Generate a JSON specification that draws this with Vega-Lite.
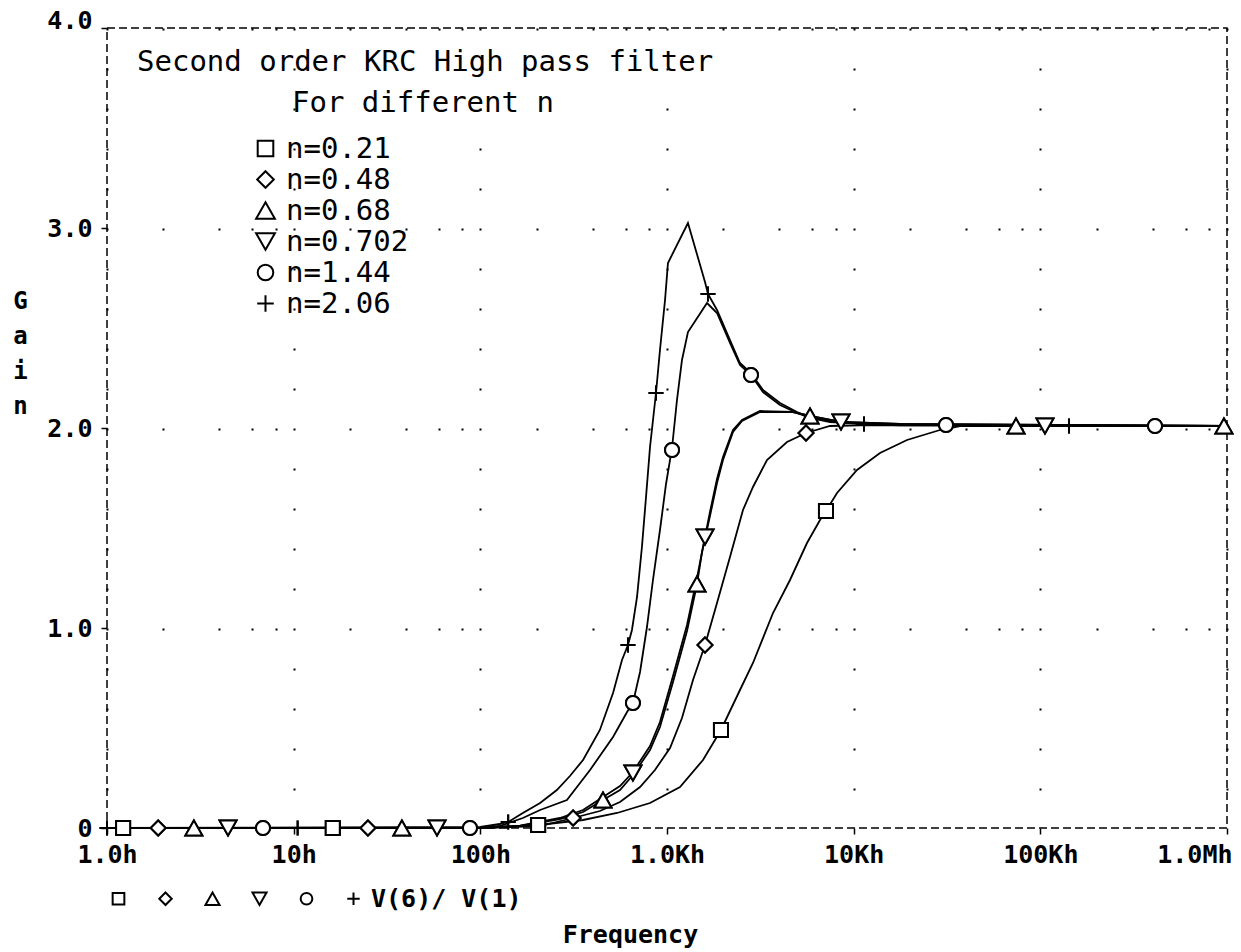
{
  "$schema": "https://vega.github.io/schema/vega-lite/v6.json",
  "width": 1120,
  "height": 800,
  "autosize": {"type": "none"},
  "padding": {"left": 107, "top": 28, "right": 14, "bottom": 124},
  "background": "white",
  "config": {
    "view": {"stroke": "black", "strokeDash": [8, 4], "strokeWidth": 1.5},
    "axis": {
      "labelFont": "DejaVu Sans Mono",
      "labelFontWeight": "bold",
      "labelFontSize": 25,
      "labelColor": "black",
      "titleFont": "DejaVu Sans Mono",
      "titleFontWeight": "bold",
      "titleColor": "black",
      "tickColor": "black",
      "tickWidth": 1.5,
      "tickSize": 6,
      "domain": false
    }
  },
  "datasets": {
    "curves": [
      {"n": "n=2.06", "f": 1, "g": 0}, {"n": "n=2.06", "f": 100, "g": 0.005}, {"n": "n=2.06", "f": 127, "g": 0.02}, {"n": "n=2.06", "f": 144, "g": 0.035}, {"n": "n=2.06", "f": 169, "g": 0.075}, {"n": "n=2.06", "f": 209, "g": 0.125}, {"n": "n=2.06", "f": 257, "g": 0.19}, {"n": "n=2.06", "f": 302, "g": 0.26}, {"n": "n=2.06", "f": 355, "g": 0.34}, {"n": "n=2.06", "f": 437, "g": 0.49}, {"n": "n=2.06", "f": 514, "g": 0.675}, {"n": "n=2.06", "f": 574, "g": 0.84}, {"n": "n=2.06", "f": 618, "g": 0.915}, {"n": "n=2.06", "f": 649, "g": 0.99}, {"n": "n=2.06", "f": 691, "g": 1.155}, {"n": "n=2.06", "f": 734, "g": 1.405}, {"n": "n=2.06", "f": 772, "g": 1.655}, {"n": "n=2.06", "f": 811, "g": 1.905}, {"n": "n=2.06", "f": 873, "g": 2.175}, {"n": "n=2.06", "f": 917, "g": 2.39}, {"n": "n=2.06", "f": 976, "g": 2.64}, {"n": "n=2.06", "f": 1012, "g": 2.825}, {"n": "n=2.06", "f": 1295, "g": 3.025}, {"n": "n=2.06", "f": 1598, "g": 2.73}, {"n": "n=2.06", "f": 1658, "g": 2.67}, {"n": "n=2.06", "f": 1853, "g": 2.59}, {"n": "n=2.06", "f": 2175, "g": 2.44}, {"n": "n=2.06", "f": 2460, "g": 2.325}, {"n": "n=2.06", "f": 2818, "g": 2.275}, {"n": "n=2.06", "f": 3268, "g": 2.19}, {"n": "n=2.06", "f": 4031, "g": 2.125}, {"n": "n=2.06", "f": 4971, "g": 2.08}, {"n": "n=2.06", "f": 5836, "g": 2.05}, {"n": "n=2.06", "f": 7470, "g": 2.035}, {"n": "n=2.06", "f": 11360, "g": 2.02}, {"n": "n=2.06", "f": 17700, "g": 2.013}, {"n": "n=2.06", "f": 1000000, "g": 2.01},
      {"n": "n=1.44", "f": 1, "g": 0}, {"n": "n=1.44", "f": 100, "g": 0}, {"n": "n=1.44", "f": 127, "g": 0.01}, {"n": "n=1.44", "f": 169, "g": 0.05}, {"n": "n=1.44", "f": 209, "g": 0.09}, {"n": "n=1.44", "f": 291, "g": 0.14}, {"n": "n=1.44", "f": 387, "g": 0.29}, {"n": "n=1.44", "f": 514, "g": 0.455}, {"n": "n=1.44", "f": 611, "g": 0.58}, {"n": "n=1.44", "f": 657, "g": 0.625}, {"n": "n=1.44", "f": 717, "g": 0.78}, {"n": "n=1.44", "f": 781, "g": 1.005}, {"n": "n=1.44", "f": 841, "g": 1.24}, {"n": "n=1.44", "f": 917, "g": 1.49}, {"n": "n=1.44", "f": 988, "g": 1.72}, {"n": "n=1.44", "f": 1064, "g": 1.9}, {"n": "n=1.44", "f": 1131, "g": 2.14}, {"n": "n=1.44", "f": 1203, "g": 2.34}, {"n": "n=1.44", "f": 1295, "g": 2.48}, {"n": "n=1.44", "f": 1638, "g": 2.625}, {"n": "n=1.44", "f": 1853, "g": 2.575}, {"n": "n=1.44", "f": 2175, "g": 2.425}, {"n": "n=1.44", "f": 2460, "g": 2.315}, {"n": "n=1.44", "f": 2818, "g": 2.265}, {"n": "n=1.44", "f": 3268, "g": 2.18}, {"n": "n=1.44", "f": 4031, "g": 2.115}, {"n": "n=1.44", "f": 4971, "g": 2.075}, {"n": "n=1.44", "f": 5836, "g": 2.05}, {"n": "n=1.44", "f": 7470, "g": 2.03}, {"n": "n=1.44", "f": 12236, "g": 2.02}, {"n": "n=1.44", "f": 31240, "g": 2.015}, {"n": "n=1.44", "f": 1000000, "g": 2.01},
      {"n": "n=0.68", "f": 1, "g": 0}, {"n": "n=0.68", "f": 100, "g": 0}, {"n": "n=0.68", "f": 163, "g": 0.01}, {"n": "n=0.68", "f": 267, "g": 0.045}, {"n": "n=0.68", "f": 355, "g": 0.08}, {"n": "n=0.68", "f": 454, "g": 0.14}, {"n": "n=0.68", "f": 560, "g": 0.19}, {"n": "n=0.68", "f": 657, "g": 0.265}, {"n": "n=0.68", "f": 811, "g": 0.39}, {"n": "n=0.68", "f": 917, "g": 0.505}, {"n": "n=0.68", "f": 1077, "g": 0.73}, {"n": "n=0.68", "f": 1280, "g": 0.985}, {"n": "n=0.68", "f": 1448, "g": 1.22}, {"n": "n=0.68", "f": 1540, "g": 1.38}, {"n": "n=0.68", "f": 1699, "g": 1.56}, {"n": "n=0.68", "f": 1853, "g": 1.725}, {"n": "n=0.68", "f": 1995, "g": 1.84}, {"n": "n=0.68", "f": 2257, "g": 1.98}, {"n": "n=0.68", "f": 2522, "g": 2.035}, {"n": "n=0.68", "f": 3149, "g": 2.08}, {"n": "n=0.68", "f": 4732, "g": 2.08}, {"n": "n=0.68", "f": 5836, "g": 2.06}, {"n": "n=0.68", "f": 8553, "g": 2.03}, {"n": "n=0.68", "f": 17700, "g": 2.02}, {"n": "n=0.68", "f": 1000000, "g": 2.01},
      {"n": "n=0.702", "f": 1, "g": 0}, {"n": "n=0.702", "f": 100, "g": 0}, {"n": "n=0.702", "f": 163, "g": 0.012}, {"n": "n=0.702", "f": 267, "g": 0.05}, {"n": "n=0.702", "f": 355, "g": 0.09}, {"n": "n=0.702", "f": 454, "g": 0.155}, {"n": "n=0.702", "f": 560, "g": 0.21}, {"n": "n=0.702", "f": 657, "g": 0.28}, {"n": "n=0.702", "f": 811, "g": 0.41}, {"n": "n=0.702", "f": 917, "g": 0.53}, {"n": "n=0.702", "f": 1077, "g": 0.76}, {"n": "n=0.702", "f": 1280, "g": 1.015}, {"n": "n=0.702", "f": 1448, "g": 1.25}, {"n": "n=0.702", "f": 1598, "g": 1.455}, {"n": "n=0.702", "f": 1699, "g": 1.58}, {"n": "n=0.702", "f": 1853, "g": 1.745}, {"n": "n=0.702", "f": 1995, "g": 1.855}, {"n": "n=0.702", "f": 2257, "g": 1.99}, {"n": "n=0.702", "f": 2522, "g": 2.04}, {"n": "n=0.702", "f": 3149, "g": 2.085}, {"n": "n=0.702", "f": 4732, "g": 2.08}, {"n": "n=0.702", "f": 5836, "g": 2.06}, {"n": "n=0.702", "f": 8553, "g": 2.03}, {"n": "n=0.702", "f": 17700, "g": 2.02}, {"n": "n=0.702", "f": 1000000, "g": 2.01},
      {"n": "n=0.48", "f": 1, "g": 0}, {"n": "n=0.48", "f": 100, "g": 0}, {"n": "n=0.48", "f": 209, "g": 0.01}, {"n": "n=0.48", "f": 314, "g": 0.05}, {"n": "n=0.48", "f": 437, "g": 0.085}, {"n": "n=0.48", "f": 560, "g": 0.13}, {"n": "n=0.48", "f": 717, "g": 0.205}, {"n": "n=0.48", "f": 862, "g": 0.29}, {"n": "n=0.48", "f": 1038, "g": 0.4}, {"n": "n=0.48", "f": 1203, "g": 0.55}, {"n": "n=0.48", "f": 1378, "g": 0.74}, {"n": "n=0.48", "f": 1598, "g": 0.915}, {"n": "n=0.48", "f": 1853, "g": 1.125}, {"n": "n=0.48", "f": 2175, "g": 1.355}, {"n": "n=0.48", "f": 2553, "g": 1.59}, {"n": "n=0.48", "f": 2888, "g": 1.705}, {"n": "n=0.48", "f": 3433, "g": 1.84}, {"n": "n=0.48", "f": 4394, "g": 1.93}, {"n": "n=0.48", "f": 5555, "g": 1.975}, {"n": "n=0.48", "f": 7470, "g": 2.01}, {"n": "n=0.48", "f": 12236, "g": 2.015}, {"n": "n=0.48", "f": 1000000, "g": 2.01},
      {"n": "n=0.21", "f": 1, "g": 0}, {"n": "n=0.21", "f": 100, "g": 0}, {"n": "n=0.21", "f": 204, "g": 0.015}, {"n": "n=0.21", "f": 355, "g": 0.04}, {"n": "n=0.21", "f": 540, "g": 0.075}, {"n": "n=0.21", "f": 811, "g": 0.125}, {"n": "n=0.21", "f": 1174, "g": 0.205}, {"n": "n=0.21", "f": 1559, "g": 0.34}, {"n": "n=0.21", "f": 1946, "g": 0.49}, {"n": "n=0.21", "f": 2460, "g": 0.69}, {"n": "n=0.21", "f": 2888, "g": 0.825}, {"n": "n=0.21", "f": 3697, "g": 1.075}, {"n": "n=0.21", "f": 4560, "g": 1.24}, {"n": "n=0.21", "f": 5623, "g": 1.425}, {"n": "n=0.21", "f": 6603, "g": 1.54}, {"n": "n=0.21", "f": 7107, "g": 1.585}, {"n": "n=0.21", "f": 8143, "g": 1.675}, {"n": "n=0.21", "f": 10420, "g": 1.79}, {"n": "n=0.21", "f": 13840, "g": 1.875}, {"n": "n=0.21", "f": 19310, "g": 1.94}, {"n": "n=0.21", "f": 29000, "g": 1.99}, {"n": "n=0.21", "f": 37120, "g": 2.01}, {"n": "n=0.21", "f": 1000000, "g": 2.01}
    ],
    "markers": [
      {"n": "n=0.21", "f": 1.22, "g": 0}, {"n": "n=0.21", "f": 16.2, "g": 0}, {"n": "n=0.21", "f": 204, "g": 0.015}, {"n": "n=0.21", "f": 1946, "g": 0.49}, {"n": "n=0.21", "f": 7107, "g": 1.585},
      {"n": "n=0.48", "f": 1.88, "g": 0}, {"n": "n=0.48", "f": 25, "g": 0}, {"n": "n=0.48", "f": 314, "g": 0.05}, {"n": "n=0.48", "f": 1598, "g": 0.915}, {"n": "n=0.48", "f": 5555, "g": 1.975},
      {"n": "n=0.68", "f": 2.92, "g": 0}, {"n": "n=0.68", "f": 38, "g": 0}, {"n": "n=0.68", "f": 454, "g": 0.14}, {"n": "n=0.68", "f": 1448, "g": 1.22}, {"n": "n=0.68", "f": 5836, "g": 2.06}, {"n": "n=0.68", "f": 74070, "g": 2.01}, {"n": "n=0.68", "f": 963000, "g": 2.01},
      {"n": "n=0.702", "f": 4.45, "g": 0}, {"n": "n=0.702", "f": 58.6, "g": 0}, {"n": "n=0.702", "f": 657, "g": 0.275}, {"n": "n=0.702", "f": 1598, "g": 1.455}, {"n": "n=0.702", "f": 8553, "g": 2.03}, {"n": "n=0.702", "f": 105900, "g": 2.01},
      {"n": "n=1.44", "f": 6.85, "g": 0}, {"n": "n=1.44", "f": 88, "g": 0}, {"n": "n=1.44", "f": 657, "g": 0.625}, {"n": "n=1.44", "f": 1064, "g": 1.89}, {"n": "n=1.44", "f": 2818, "g": 2.265}, {"n": "n=1.44", "f": 31240, "g": 2.015}, {"n": "n=1.44", "f": 411400, "g": 2.01},
      {"n": "n=2.06", "f": 1, "g": 0}, {"n": "n=2.06", "f": 10.5, "g": 0}, {"n": "n=2.06", "f": 141, "g": 0.03}, {"n": "n=2.06", "f": 618, "g": 0.915}, {"n": "n=2.06", "f": 873, "g": 2.175}, {"n": "n=2.06", "f": 1658, "g": 2.67}, {"n": "n=2.06", "f": 11360, "g": 2.02}, {"n": "n=2.06", "f": 142400, "g": 2.01}
    ],
    "notes": [
      {"label": "Second order KRC High pass filter", "f": 1.448, "g": 3.83},
      {"label": "For different n", "f": 9.8, "g": 3.625}
    ]
  },
  "resolve": {"scale": {"shape": "independent"}, "axis": {"x": "independent", "y": "independent"}},
  "layer": [
    {
      "data": {"name": "curves"},
      "mark": {"type": "line", "stroke": "black", "strokeWidth": 1.8, "interpolate": "linear"},
      "encoding": {
        "x": {
          "field": "f", "type": "quantitative",
          "scale": {"type": "log", "domain": [1, 1000000], "nice": false},
          "axis": {
            "orient": "bottom",
            "values": [1, 10, 100, 1000, 10000, 100000, 1000000],
            "labelExpr": "datum.value == 1 ? '1.0h' : datum.value == 10 ? '10h' : datum.value == 100 ? '100h' : datum.value == 1000 ? '1.0Kh' : datum.value == 10000 ? '10Kh' : datum.value == 100000 ? '100Kh' : ''",
            "labelOverlap": false,
            "labelFlush": false,
            "labelPadding": 8,
            "grid": true,
            "gridColor": "black",
            "gridOpacity": 1,
            "gridWidth": 2,
            "gridDash": [2, 38],
            "title": "Frequency",
            "titleFontSize": 25,
            "titleX": 523,
            "titleY": 114,
            "titleAlign": "center",
            "titleBaseline": "alphabetic"
          }
        },
        "y": {
          "field": "g", "type": "quantitative",
          "scale": {"domain": [0, 4], "nice": false, "zero": true},
          "axis": {
            "orient": "left",
            "values": [0, 1, 2, 3, 4],
            "labelExpr": "datum.value == 0 ? '0' : format(datum.value, '.1f')",
            "labelBaseline": {"condition": {"test": "datum.value == 4", "value": "alphabetic"}, "value": "middle"},
            "labelPadding": 9,
            "grid": false,
            "title": ["G", "a", "i", "n"],
            "titleAngle": 0,
            "titleAlign": "center",
            "titleBaseline": "top",
            "titleFontSize": 24,
            "titleLineHeight": 35,
            "titleX": -87,
            "titleY": 261
          }
        },
        "detail": {"field": "n"}
      }
    },
    {
      "data": {"name": "markers"},
      "mark": {"type": "point", "filled": true, "fill": "white", "stroke": "black", "strokeWidth": 2, "size": 324, "opacity": 1},
      "encoding": {
        "x": {
          "field": "f", "type": "quantitative",
          "scale": {"type": "log", "domain": [1, 1000000], "nice": false},
          "axis": {
            "orient": "bottom",
            "values": [2, 4, 6, 8, 20, 40, 60, 80, 200, 400, 600, 800, 2000, 4000, 6000, 8000, 20000, 40000, 60000, 80000, 200000, 400000, 600000, 800000],
            "labels": false,
            "ticks": false,
            "grid": true,
            "gridColor": "black",
            "gridOpacity": 1,
            "gridWidth": 2,
            "gridDash": [2, 198],
            "title": null
          }
        },
        "y": {"field": "g", "type": "quantitative", "scale": {"domain": [0, 4], "nice": false}, "axis": null},
        "shape": {
          "field": "n", "type": "nominal",
          "scale": {
            "domain": ["n=0.21", "n=0.48", "n=0.68", "n=0.702", "n=1.44", "n=2.06"],
            "range": ["M-0.78,-0.78H0.78V0.78H-0.78Z", "M0,-0.83L0.83,0L0,0.83L-0.83,0Z", "M0,-0.83L0.94,0.83H-0.94Z", "M0,0.83L0.94,-0.83H-0.94Z", "M0.78,0A0.78,0.78 0 1,1 -0.78,0A0.78,0.78 0 1,1 0.78,0Z", "M-0.83,0H0.83M0,-0.83V0.83"]
          },
          "legend": {
            "orient": "none",
            "direction": "horizontal",
            "columns": 6,
            "legendX": -1,
            "legendY": 858,
            "title": null,
            "padding": 0,
            "labelExpr": "datum.label == 'n=2.06' ? 'V(6)/ V(1)' : ''",
            "labelFont": "DejaVu Sans Mono",
            "labelFontSize": 25,
            "labelFontWeight": "bold",
            "labelColor": "black",
            "labelOffset": 5,
            "columnPadding": 17,
            "symbolSize": 225,
            "symbolStrokeWidth": 2
          }
        }
      }
    },
    {
      "data": {"name": "markers"},
      "mark": {"type": "point", "filled": true, "fill": "white", "stroke": "black", "strokeWidth": 2, "size": 324, "opacity": 1},
      "encoding": {
        "x": {"field": "f", "type": "quantitative", "scale": {"type": "log", "domain": [1, 1000000], "nice": false}, "axis": null},
        "y": {"field": "g", "type": "quantitative", "scale": {"domain": [0, 4], "nice": false}, "axis": null},
        "shape": {
          "field": "n", "type": "nominal",
          "scale": {
            "domain": ["n=0.21", "n=0.48", "n=0.68", "n=0.702", "n=1.44", "n=2.06"],
            "range": ["M-0.78,-0.78H0.78V0.78H-0.78Z", "M0,-0.83L0.83,0L0,0.83L-0.83,0Z", "M0,-0.83L0.94,0.83H-0.94Z", "M0,0.83L0.94,-0.83H-0.94Z", "M0.78,0A0.78,0.78 0 1,1 -0.78,0A0.78,0.78 0 1,1 0.78,0Z", "M-0.83,0H0.83M0,-0.83V0.83"]
          },
          "legend": {
            "orient": "none",
            "direction": "vertical",
            "legendX": 144,
            "legendY": 106,
            "title": null,
            "padding": 0,
            "labelFont": "DejaVu Sans Mono",
            "labelFontSize": 29,
            "labelFontWeight": "normal",
            "labelColor": "black",
            "labelOffset": 6,
            "labelLimit": 400,
            "rowPadding": 1,
            "symbolSize": 400,
            "symbolStrokeWidth": 2
          }
        }
      }
    },
    {
      "data": {"name": "notes"},
      "mark": {"type": "text", "align": "left", "baseline": "middle", "font": "DejaVu Sans Mono", "fontSize": 29, "fontWeight": "normal", "color": "black"},
      "encoding": {
        "x": {
          "field": "f", "type": "quantitative",
          "scale": {"type": "log", "domain": [1, 1000000], "nice": false},
          "axis": {
            "orient": "bottom",
            "values": [1000000],
            "labelExpr": "'1.0Mh'",
            "labelAlign": "right",
            "labelOffset": 5,
            "labelPadding": 14,
            "ticks": false,
            "grid": false,
            "title": null
          }
        },
        "y": {"field": "g", "type": "quantitative", "scale": {"domain": [0, 4], "nice": false}, "axis": null},
        "text": {"field": "label"}
      }
    }
  ]
}
